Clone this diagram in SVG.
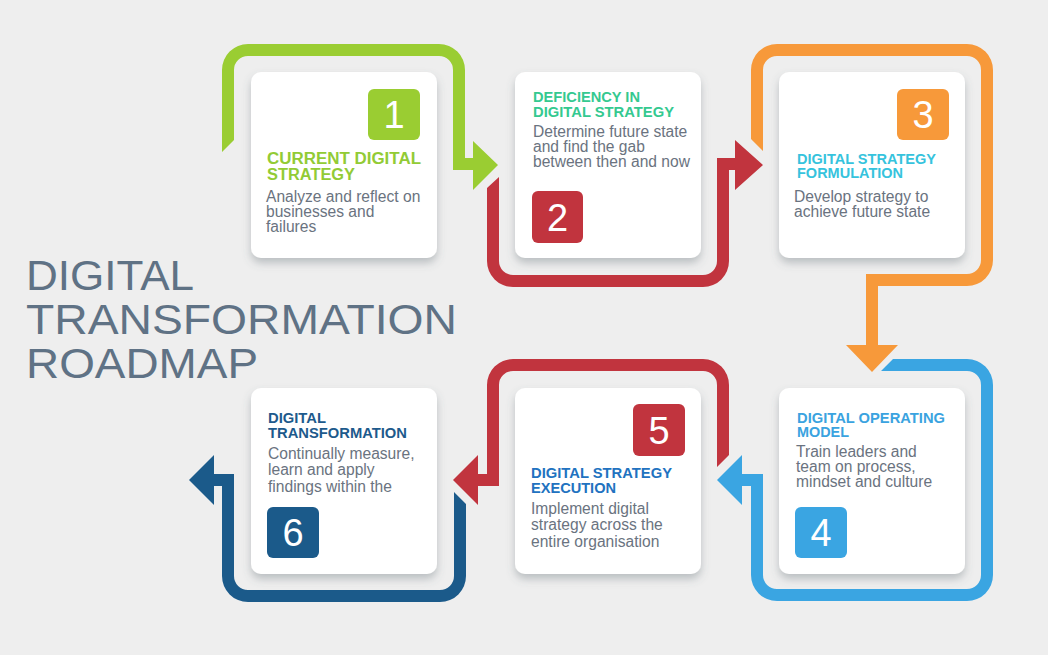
<svg xmlns="http://www.w3.org/2000/svg" width="1048" height="655" viewBox="0 0 1048 655">
<defs>
<filter id="sh" x="-20%" y="-20%" width="140%" height="150%">
<feDropShadow dx="0" dy="5" stdDeviation="4" flood-color="#5a6670" flood-opacity="0.35"/>
</filter>
<style>
.card{fill:#ffffff;filter:url(#sh)}
.t{font-family:"Liberation Sans",Arial,sans-serif;font-weight:bold;font-size:14.4px}
.t1{font-size:15.6px}
.b{font-family:"Liberation Sans",Arial,sans-serif;font-size:15.6px;fill:#6a7380}
.n{font-family:"Liberation Sans",Arial,sans-serif;font-size:38px;fill:#ffffff;text-anchor:middle}
.h{font-family:"Liberation Sans",Arial,sans-serif;font-size:42px;fill:#5f7285}
</style>
</defs>
<rect width="1048" height="655" fill="#eeeeee"/>
<g id="title">
<text class="h" x="26" y="290" textLength="168" lengthAdjust="spacingAndGlyphs">DIGITAL</text>
<text class="h" x="26" y="334" textLength="431" lengthAdjust="spacingAndGlyphs">TRANSFORMATION</text>
<text class="h" x="26" y="378" textLength="232" lengthAdjust="spacingAndGlyphs">ROADMAP</text>
</g>
<g id="connectors">
<path id="c1" fill="#9acd32" d="M222,152 L222,70 A26,26 0 0 1 248,44 L439,44 A26,26 0 0 1 465,70 L465,158 L473,158 L473,141 L498,165 L473,190 L473,170 L453,170 L453,70 A14,14 0 0 0 439,56 L248,56 A14,14 0 0 0 234,70 L234,140 Z"/>
<path id="c2" fill="#c1343e" d="M487,188 L487,261 A26,26 0 0 0 513,287 L703,287 A26,26 0 0 0 729,261 L729,170 L735,170 L735,190 L763,165 L735,140 L735,158 L717,158 L717,261 A14,14 0 0 1 703,275 L513,275 A14,14 0 0 1 499,261 L499,177 Z"/>
<path id="c3" fill="#f7993a" d="M751,139 L751,70 A26,26 0 0 1 777,44 L967,44 A26,26 0 0 1 993,70 L993,260 A26,26 0 0 1 967,286 L878,286 L878,345 L898,345 L872,372 L846,345 L866,345 L866,274 L967,274 A14,14 0 0 0 981,260 L981,70 A14,14 0 0 0 967,56 L777,56 A14,14 0 0 0 763,70 L763,151 Z"/>
<path id="c4" fill="#3aa5e2" d="M893,359 L967,359 A26,26 0 0 1 993,385 L993,575 A26,26 0 0 1 967,601 L777,601 A26,26 0 0 1 751,575 L751,486 L742,486 L742,505 L717,480 L742,455 L742,474 L763,474 L763,575 A14,14 0 0 0 777,589 L967,589 A14,14 0 0 0 981,575 L981,385 A14,14 0 0 0 967,371 L881,371 Z"/>
<path id="c5" fill="#c1343e" d="M729,455 L729,385 A26,26 0 0 0 703,359 L513,359 A26,26 0 0 0 487,385 L487,474 L478,474 L478,455 L453,480 L478,505 L478,486 L499,486 L499,385 A14,14 0 0 1 513,371 L703,371 A14,14 0 0 1 717,385 L717,467 Z"/>
<path id="c6" fill="#1b5a8a" d="M466,504 L466,576 A26,26 0 0 1 440,602 L248,602 A26,26 0 0 1 222,576 L222,486 L214,486 L214,505 L189,480 L214,455 L214,474 L234,474 L234,576 A14,14 0 0 0 248,590 L440,590 A14,14 0 0 0 454,576 L454,492 Z"/>
</g>
<g id="node1">
<rect class="card" x="251" y="72" width="186" height="186" rx="10"/>
<rect x="368" y="89" width="52" height="51" rx="6" fill="#9acd32"/>
<text class="n" x="394" y="128">1</text>
<text class="t t1" fill="#92cb35" x="267" y="164" textLength="154" lengthAdjust="spacingAndGlyphs">CURRENT DIGITAL</text>
<text class="t t1" fill="#92cb35" x="267" y="179.5" textLength="88" lengthAdjust="spacingAndGlyphs">STRATEGY</text>
<text class="b" x="266" y="202">Analyze and reflect on</text>
<text class="b" x="266" y="217">businesses and</text>
<text class="b" x="266" y="232">failures</text>
</g>
<g id="node2">
<rect class="card" x="515" y="72" width="186" height="186" rx="10"/>
<text class="t" fill="#34c990" x="533" y="102" textLength="107" lengthAdjust="spacingAndGlyphs">DEFICIENCY IN</text>
<text class="t" fill="#34c990" x="533" y="117" textLength="141" lengthAdjust="spacingAndGlyphs">DIGITAL STRATEGY</text>
<text class="b" x="533" y="137">Determine future state</text>
<text class="b" x="533" y="152">and find the gab</text>
<text class="b" x="533" y="167">between then and now</text>
<rect x="532" y="191" width="51" height="52" rx="6" fill="#c1343e"/>
<text class="n" x="557.5" y="231">2</text>
</g>
<g id="node3">
<rect class="card" x="779" y="72" width="186" height="186" rx="10"/>
<rect x="897" y="89" width="52" height="51" rx="6" fill="#f7993a"/>
<text class="n" x="923" y="128">3</text>
<text class="t" fill="#36c3dd" x="797" y="164" textLength="139" lengthAdjust="spacingAndGlyphs">DIGITAL STRATEGY</text>
<text class="t" fill="#36c3dd" x="797" y="178" textLength="106" lengthAdjust="spacingAndGlyphs">FORMULATION</text>
<text class="b" x="794" y="202">Develop strategy to</text>
<text class="b" x="794" y="217">achieve future state</text>
</g>
<g id="node4">
<rect class="card" x="779" y="388" width="186" height="186" rx="10"/>
<text class="t" fill="#3aa3e0" x="797" y="423" textLength="148" lengthAdjust="spacingAndGlyphs">DIGITAL OPERATING</text>
<text class="t" fill="#3aa3e0" x="797" y="437" textLength="52" lengthAdjust="spacingAndGlyphs">MODEL</text>
<text class="b" x="796" y="457">Train leaders and</text>
<text class="b" x="796" y="472">team on process,</text>
<text class="b" x="796" y="487">mindset and culture</text>
<rect x="795" y="507" width="52" height="51" rx="6" fill="#3aa5e2"/>
<text class="n" x="821" y="546">4</text>
</g>
<g id="node5">
<rect class="card" x="515" y="388" width="186" height="186" rx="10"/>
<rect x="633" y="404" width="52" height="52" rx="6" fill="#c1343e"/>
<text class="n" x="659" y="444">5</text>
<text class="t" fill="#2172c0" x="531" y="478" textLength="141" lengthAdjust="spacingAndGlyphs">DIGITAL STRATEGY</text>
<text class="t" fill="#2172c0" x="531" y="493" textLength="85" lengthAdjust="spacingAndGlyphs">EXECUTION</text>
<text class="b" x="531" y="514">Implement digital</text>
<text class="b" x="531" y="530">strategy across the</text>
<text class="b" x="531" y="547">entire organisation</text>
</g>
<g id="node6">
<rect class="card" x="251" y="388" width="186" height="186" rx="10"/>
<text class="t" fill="#1d5a8c" x="268" y="423" textLength="58" lengthAdjust="spacingAndGlyphs">DIGITAL</text>
<text class="t" fill="#1d5a8c" x="268" y="438" textLength="139" lengthAdjust="spacingAndGlyphs">TRANSFORMATION</text>
<text class="b" x="268" y="459">Continually measure,</text>
<text class="b" x="268" y="475">learn and apply</text>
<text class="b" x="268" y="492">findings within the</text>
<rect x="267" y="507" width="52" height="51" rx="6" fill="#1b5a8a"/>
<text class="n" x="293" y="546">6</text>
</g>
</svg>
